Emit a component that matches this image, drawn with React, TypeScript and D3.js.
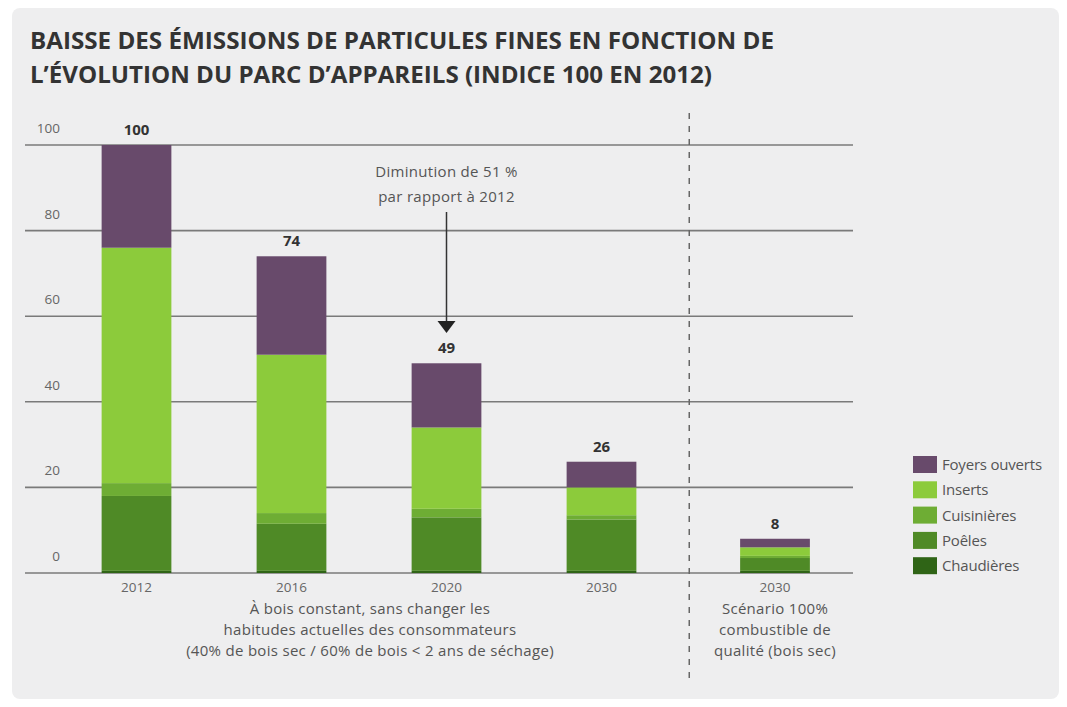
import * as d3 from "d3";
import { useEffect, useRef } from "react";

const W = 1067;
const H = 707;

const years = ["2012", "2016", "2020", "2030"];
const scenarioYears = ["2030"];
const seriesKeys = ["Chaudières", "Poêles", "Cuisinières", "Inserts", "Foyers ouverts"];
const legendOrder = ["Foyers ouverts", "Inserts", "Cuisinières", "Poêles", "Chaudières"];
const colors = ["#2f6416", "#4f8a26", "#6ead34", "#8ccb3b", "#684a6b"];

// valeurs par série, dans l'ordre des années
const chaudieres = [0.5, 0.5, 0.5, 0.5];
const poeles = [17.5, 11, 12.5, 12];
const cuisinieres = [3, 2.5, 2, 1];
const inserts = [55, 37, 19, 6.5];
const foyers = [24, 23, 15, 6];
const totals = [100, 74, 49, 26];

// scénario 100 % combustible de qualité
const scenarioValues = [0.5, 3, 0.5, 2, 2];
const scenarioTotal = [8];

const yTicks = [0, 20, 40, 60, 80, 100];
const captionMain = [
  "À bois constant, sans changer les",
  "habitudes actuelles des consommateurs",
  "(40% de bois sec / 60% de bois < 2 ans de séchage)",
];
const captionScenario = ["Scénario 100%", "combustible de", "qualité (bois sec)"];
const annotation = ["Diminution de 51 %", "par rapport à 2012"];

const FONT = "'Open Sans', 'DejaVu Sans', sans-serif";

export default function App() {
  const svgRef = useRef<SVGSVGElement>(null);

  useEffect(() => {
    const svg = d3.select(svgRef.current);
    svg.selectAll("*").remove();

    // fond
    svg.append("rect").attr("width", W).attr("height", H).attr("fill", "#ffffff");
    svg.append("rect")
      .attr("x", 12).attr("y", 8)
      .attr("width", W - 20).attr("height", H - 16)
      .attr("rx", 8)
      .attr("fill", "#eeeeef");

    // titre
    const title = svg.append("text")
      .style("font-family", FONT)
      .style("font-weight", "700")
      .style("font-size", "23.5px")
      .style("fill", "#333");
    title.append("tspan").attr("x", 30).attr("y", 49)
      .attr("textLength", 744).attr("lengthAdjust", "spacingAndGlyphs")
      .text("BAISSE DES ÉMISSIONS DE PARTICULES FINES EN FONCTION DE");
    title.append("tspan").attr("x", 30).attr("y", 83)
      .attr("textLength", 682).attr("lengthAdjust", "spacingAndGlyphs")
      .text("L’ÉVOLUTION DU PARC D’APPAREILS (INDICE 100 EN 2012)");

    const y = d3.scaleLinear().domain([0, 100]).range([573, 145]);
    const x = d3.scaleBand().domain(years).range([59, 679]).paddingInner(0.55).paddingOuter(0.275);
    const xs = d3.scaleBand().domain(scenarioYears).range([697.5, 852.5]).paddingInner(0.55).paddingOuter(0.275);

    // grille
    const grid = svg.append("g");
    grid.selectAll("line")
      .data(yTicks)
      .enter()
      .append("line")
      .attr("x1", 25).attr("x2", 853)
      .attr("y1", d => y(d)).attr("y2", d => y(d))
      .attr("stroke", "#7a7a7a")
      .attr("stroke-width", 1.6);
    grid.selectAll("text")
      .data(yTicks)
      .enter()
      .append("text")
      .attr("x", 60)
      .attr("y", d => y(d) - 12)
      .attr("text-anchor", "end")
      .style("font-family", FONT)
      .style("font-size", "13.5px")
      .style("fill", "#666")
      .text(d => d);

    // séparateur pointillé
    const sepX = (x.range()[1] + xs.range()[0]) / 2 + 1;
    svg.append("line")
      .attr("x1", sepX).attr("x2", sepX)
      .attr("y1", 113).attr("y2", 682)
      .attr("stroke", "#666")
      .attr("stroke-width", 1.5)
      .attr("stroke-dasharray", "6,7");

    const rows = years.map((yr, i) => ({
      year: yr,
      "Chaudières": chaudieres[i],
      "Poêles": poeles[i],
      "Cuisinières": cuisinieres[i],
      "Inserts": inserts[i],
      "Foyers ouverts": foyers[i],
    }));
    const scenRows = scenarioYears.map(yr => {
      const r: any = { year: yr };
      seriesKeys.forEach((k, j) => (r[k] = scenarioValues[j]));
      return r;
    });

    const stack = d3.stack<any>().keys(seriesKeys);

    const drawBars = (data: any[], scale: d3.ScaleBand<string>) => {
      const layers = stack(data);
      svg.append("g")
        .selectAll("g")
        .data(layers)
        .enter()
        .append("g")
        .attr("fill", (d, i) => colors[i])
        .selectAll("rect")
        .data(d => d)
        .enter()
        .append("rect")
        .attr("x", d => scale(d.data.year)!)
        .attr("width", scale.bandwidth())
        .attr("y", d => y(d[1]))
        .attr("height", d => y(d[0]) - y(d[1]));
    };
    drawBars(rows, x);
    drawBars(scenRows, xs);

    // valeurs totales
    const labelTotals = (cats: string[], vals: number[], scale: d3.ScaleBand<string>) => {
      svg.append("g")
        .selectAll("text")
        .data(cats)
        .enter()
        .append("text")
        .attr("x", d => scale(d)! + scale.bandwidth() / 2)
        .attr("y", (d, i) => y(vals[i]) - 10)
        .attr("text-anchor", "middle")
        .style("font-family", FONT)
        .style("font-weight", "700")
        .style("font-size", "15px")
        .style("fill", "#333")
        .text((d, i) => vals[i]);
    };
    labelTotals(years, totals, x);
    labelTotals(scenarioYears, scenarioTotal, xs);

    // étiquettes des années
    const yearLabels = (cats: string[], scale: d3.ScaleBand<string>) => {
      svg.append("g")
        .selectAll("text")
        .data(cats)
        .enter()
        .append("text")
        .attr("x", d => scale(d)! + scale.bandwidth() / 2)
        .attr("y", 592)
        .attr("text-anchor", "middle")
        .style("font-family", FONT)
        .style("font-size", "13.5px")
        .style("fill", "#666")
        .text(d => d);
    };
    yearLabels(years, x);
    yearLabels(scenarioYears, xs);

    // légendes sous l'axe
    const caption = (lines: string[], cx: number) => {
      svg.append("g")
        .selectAll("text")
        .data(lines)
        .enter()
        .append("text")
        .attr("x", cx)
        .attr("y", (d, i) => 614 + i * 21)
        .attr("text-anchor", "middle")
        .style("font-family", FONT)
        .style("font-size", "15px")
        .style("letter-spacing", "0.3px")
        .style("fill", "#555")
        .text(d => d);
    };
    caption(captionMain, 370);
    caption(captionScenario, xs("2030")! + xs.bandwidth() / 2);

    // annotation
    const ax = x("2020")! + x.bandwidth() / 2;
    svg.append("g")
      .selectAll("text")
      .data(annotation)
      .enter()
      .append("text")
      .attr("x", ax)
      .attr("y", (d, i) => 177 + i * 25)
      .attr("text-anchor", "middle")
      .style("font-family", FONT)
      .style("font-size", "15px")
      .style("letter-spacing", "0.3px")
      .style("fill", "#555")
      .text(d => d);
    svg.append("line")
      .attr("x1", ax).attr("x2", ax)
      .attr("y1", 212).attr("y2", 322)
      .attr("stroke", "#333")
      .attr("stroke-width", 1.5);
    svg.append("path")
      .attr("d", `M${ax - 9},${321} L${ax + 9},${321} L${ax},${333} Z`)
      .attr("fill", "#222");

    // légende
    const legend = svg.append("g").attr("transform", "translate(913,456)");
    const item = legend.selectAll("g")
      .data(legendOrder)
      .enter()
      .append("g")
      .attr("transform", (d, i) => `translate(0,${i * 25.3})`);
    item.append("rect")
      .attr("width", 24).attr("height", 17)
      .attr("fill", d => colors[seriesKeys.indexOf(d)]);
    item.append("text")
      .attr("x", 29).attr("y", 14)
      .style("font-family", FONT)
      .style("font-size", "15px")
      .style("letter-spacing", "-0.2px")
      .style("fill", "#555")
      .text(d => d);
  }, []);

  return (
    <svg
      ref={svgRef}
      width={W}
      height={H}
      style={{ position: "absolute", left: 0, top: 0, display: "block" }}
    />
  );
}
